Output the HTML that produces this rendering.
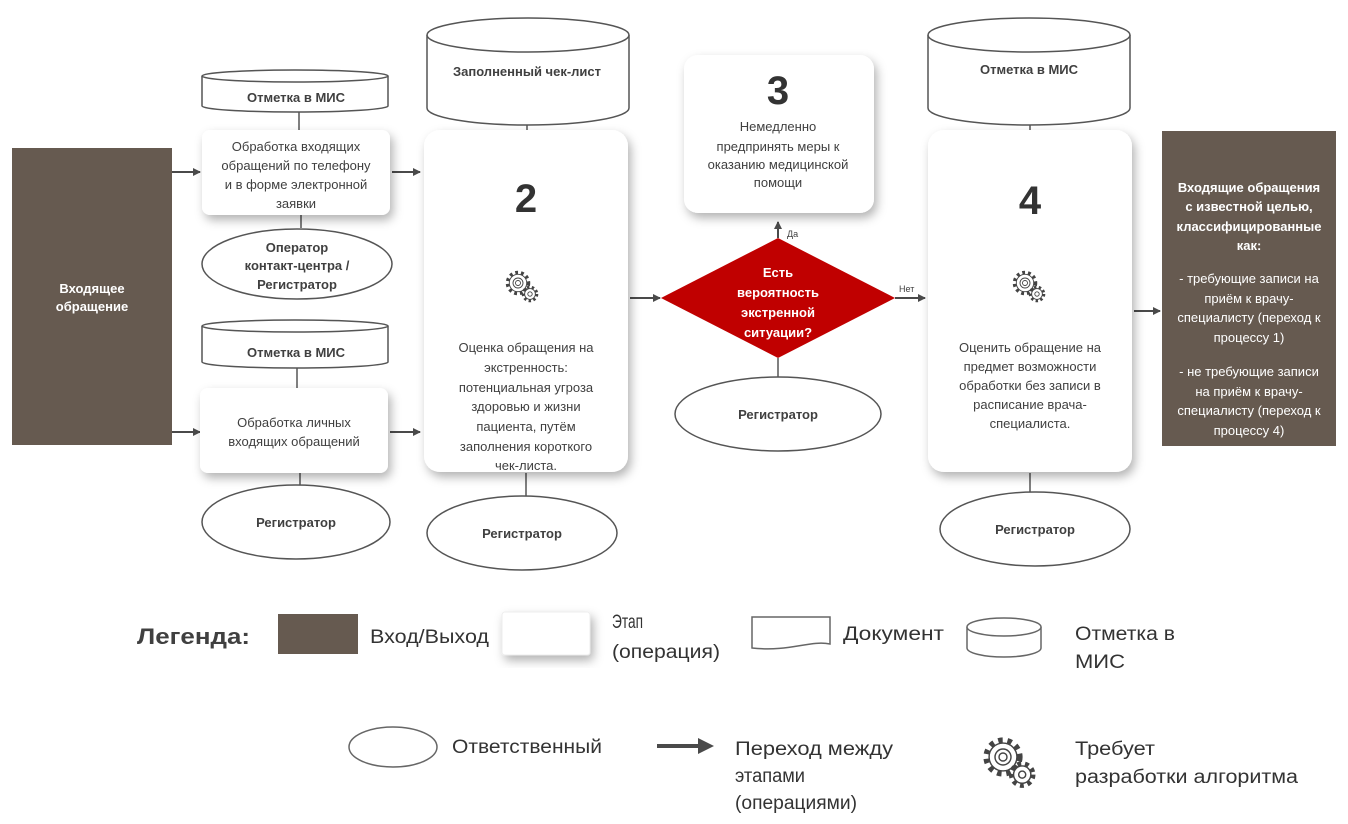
<!DOCTYPE html>
<html><head><meta charset="utf-8"><style>
html,body{margin:0;padding:0;background:#fff;}
svg{display:block;}
text{font-family:"Liberation Sans",sans-serif;fill:#404040;}
.t{font-size:13px;text-anchor:middle;}
.b{font-weight:bold;}
.w{fill:#fff;}
.n{font-family:"Liberation Sans",sans-serif;font-weight:bold;font-size:40px;text-anchor:middle;fill:#333;}
.lg{font-size:19px;fill:#333;}
</style></head><body>
<svg width="1348" height="824" viewBox="0 0 1348 824">
<defs>
<filter id="sh" x="-20%" y="-20%" width="150%" height="150%"><feDropShadow dx="3" dy="5" stdDeviation="5" flood-color="#000" flood-opacity="0.3"/></filter>
<marker id="ar" markerWidth="8" markerHeight="8" refX="7" refY="4" orient="auto" markerUnits="userSpaceOnUse"><path d="M0,0 L8,4 L0,8 z" fill="#4a4a4a"/></marker>
<g id="gear">
 <circle r="10.5" fill="none" stroke="#444" stroke-width="3.5" stroke-dasharray="2.8 3"/>
 <circle r="8.7" fill="#fff" stroke="#444" stroke-width="0.9"/>
 <circle r="5" fill="none" stroke="#444" stroke-width="0.9"/>
 <circle r="2.5" fill="none" stroke="#444" stroke-width="0.9"/>
 <g transform="translate(12,11)">
 <circle r="6.8" fill="none" stroke="#444" stroke-width="3" stroke-dasharray="2.4 2.4"/>
 <circle r="5.4" fill="#fff" stroke="#444" stroke-width="0.9"/>
 <circle r="2.2" fill="none" stroke="#444" stroke-width="0.9"/>
 </g>
</g>
</defs>
<g stroke="#555" stroke-width="1.5" fill="#fff">
<line x1="299" y1="112" x2="299" y2="130"/>
<line x1="301" y1="215" x2="301" y2="228"/>
<line x1="297" y1="368" x2="297" y2="388"/>
<line x1="300" y1="473" x2="300" y2="486"/>
<line x1="527" y1="125" x2="527" y2="130"/>
<line x1="526" y1="473" x2="526" y2="496"/>
<line x1="778" y1="358" x2="778" y2="378"/>
<line x1="1030" y1="125" x2="1030" y2="130"/>
<line x1="1030" y1="473" x2="1030" y2="492"/>
</g>
<g stroke="#4a4a4a" stroke-width="2" marker-end="url(#ar)">
<line x1="172" y1="172" x2="200" y2="172"/>
<line x1="172" y1="432" x2="200" y2="432"/>
<line x1="392" y1="172" x2="420" y2="172"/>
<line x1="390" y1="432" x2="420" y2="432"/>
<line x1="630" y1="298" x2="660" y2="298"/>
<line x1="778" y1="238" x2="778" y2="222"/>
<line x1="895" y1="298" x2="925" y2="298"/>
<line x1="1134" y1="311" x2="1160" y2="311"/>
</g>
<rect x="12" y="148" width="160" height="297" fill="#665a50"/>
<text class="t b w" x="92" y="293">Входящее</text>
<text class="t b w" x="92" y="311">обращение</text>
<rect x="1162" y="131" width="174" height="315" fill="#665a50"/>
<text class="t b w" x="1249" y="192">Входящие обращения</text>
<text class="t b w" x="1249" y="211">с известной целью,</text>
<text class="t b w" x="1249" y="231">классифицированные</text>
<text class="t b w" x="1249" y="250">как:</text>
<text class="t w" x="1249" y="283">- требующие записи на</text>
<text class="t w" x="1249" y="303">приём к врачу-</text>
<text class="t w" x="1249" y="322">специалисту (переход к</text>
<text class="t w" x="1249" y="342">процессу 1)</text>
<text class="t w" x="1249" y="376">- не требующие записи</text>
<text class="t w" x="1249" y="396">на приём к врачу-</text>
<text class="t w" x="1249" y="415">специалисту (переход к</text>
<text class="t w" x="1249" y="435">процессу 4)</text>
<g stroke="#555" stroke-width="1.5" fill="#fff">
<path d="M202,76 L202,106 A93,6 0 0 0 388,106 L388,76"/>
<ellipse cx="295" cy="76" rx="93" ry="6"/>
<path d="M202,326 L202,362 A93,6 0 0 0 388,362 L388,326"/>
<ellipse cx="295" cy="326" rx="93" ry="6"/>
<path d="M427,35 L427,108 A101,17 0 0 0 629,108 L629,35"/>
<ellipse cx="528" cy="35" rx="101" ry="17"/>
<path d="M928,35 L928,108 A101,17 0 0 0 1130,108 L1130,35"/>
<ellipse cx="1029" cy="35" rx="101" ry="17"/>
</g>
<text class="t b" x="296" y="102">Отметка в МИС</text>
<text class="t b" x="296" y="357">Отметка в МИС</text>
<text class="t b" x="527" y="76">Заполненный чек-лист</text>
<text class="t b" x="1029" y="74">Отметка в МИС</text>
<g fill="#fff" filter="url(#sh)">
<rect x="202" y="130" width="188" height="85" rx="8"/>
<rect x="200" y="388" width="188" height="85" rx="8"/>
<rect x="424" y="130" width="204" height="342" rx="16"/>
<rect x="684" y="55" width="190" height="158" rx="14"/>
<rect x="928" y="130" width="204" height="342" rx="16"/>
</g>
<text class="t" x="296" y="151">Обработка входящих</text>
<text class="t" x="296" y="170">обращений по телефону</text>
<text class="t" x="296" y="189">и в форме электронной</text>
<text class="t" x="296" y="208">заявки</text>
<text class="t" x="294" y="427">Обработка личных</text>
<text class="t" x="294" y="446">входящих обращений</text>
<text class="n" x="526" y="212">2</text>
<use href="#gear" x="518" y="283"/>
<text class="t" x="526" y="352">Оценка обращения на</text>
<text class="t" x="526" y="372">экстренность:</text>
<text class="t" x="526" y="392">потенциальная угроза</text>
<text class="t" x="526" y="411">здоровью и жизни</text>
<text class="t" x="526" y="431">пациента, путём</text>
<text class="t" x="526" y="451">заполнения короткого</text>
<text class="t" x="526" y="470">чек-листа.</text>
<text class="n" x="778" y="104">3</text>
<text class="t" x="778" y="131">Немедленно</text>
<text class="t" x="778" y="151">предпринять меры к</text>
<text class="t" x="778" y="169">оказанию медицинской</text>
<text class="t" x="778" y="187">помощи</text>
<text class="n" x="1030" y="214">4</text>
<use href="#gear" x="1025" y="283"/>
<text class="t" x="1030" y="352">Оценить обращение на</text>
<text class="t" x="1030" y="371">предмет возможности</text>
<text class="t" x="1030" y="390">обработки без записи в</text>
<text class="t" x="1030" y="409">расписание врача-</text>
<text class="t" x="1030" y="428">специалиста.</text>
<polygon points="778,238 895,298 778,358 661,298" fill="#c00000"/>
<text class="t b w" x="778" y="277">Есть</text>
<text class="t b w" x="778" y="297">вероятность</text>
<text class="t b w" x="778" y="317">экстренной</text>
<text class="t b w" x="778" y="337">ситуации?</text>
<text x="787" y="237" font-size="9">Да</text>
<text x="899" y="292" font-size="9">Нет</text>
<g fill="#fff" stroke="#555" stroke-width="1.5">
<ellipse cx="297" cy="264" rx="95" ry="35"/>
<ellipse cx="296" cy="522" rx="94" ry="37"/>
<ellipse cx="522" cy="533" rx="95" ry="37"/>
<ellipse cx="778" cy="414" rx="103" ry="37"/>
<ellipse cx="1035" cy="529" rx="95" ry="37"/>
</g>
<text class="t b" x="297" y="252">Оператор</text>
<text class="t b" x="297" y="270">контакт-центра /</text>
<text class="t b" x="297" y="289">Регистратор</text>
<text class="t b" x="296" y="527">Регистратор</text>
<text class="t b" x="522" y="538">Регистратор</text>
<text class="t b" x="778" y="419">Регистратор</text>
<text class="t b" x="1035" y="534">Регистратор</text>
<text x="137" y="644" font-weight="bold" font-size="22" fill="#222" textLength="113" lengthAdjust="spacingAndGlyphs">Легенда:</text>
<rect x="278" y="614" width="80" height="40" fill="#665a50"/>
<text class="lg" x="370" y="643" textLength="119" lengthAdjust="spacingAndGlyphs">Вход/Выход</text>
<rect x="502" y="612" width="88" height="43" rx="3" fill="#fff" filter="url(#sh)" stroke="#eee"/>
<text class="lg" x="612" y="628" textLength="31" lengthAdjust="spacingAndGlyphs">Этап</text>
<text class="lg" x="612" y="658" textLength="108" lengthAdjust="spacingAndGlyphs">(операция)</text>
<path d="M752,617 L830,617 L830,644 C810,640 790,652 752,648 Z" fill="#fff" stroke="#666" stroke-width="1.5"/>
<text class="lg" x="843" y="640" textLength="101" lengthAdjust="spacingAndGlyphs">Документ</text>
<path d="M967,627 L967,648 A37,9 0 0 0 1041,648 L1041,627" fill="#fff" stroke="#666" stroke-width="1.5"/>
<ellipse cx="1004" cy="627" rx="37" ry="9" fill="#fff" stroke="#666" stroke-width="1.5"/>
<text class="lg" x="1075" y="640" textLength="100" lengthAdjust="spacingAndGlyphs">Отметка в</text>
<text class="lg" x="1075" y="668" textLength="50" lengthAdjust="spacingAndGlyphs">МИС</text>
<ellipse cx="393" cy="747" rx="44" ry="20" fill="#fff" stroke="#666" stroke-width="1.5"/>
<text class="lg" x="452" y="753" textLength="150" lengthAdjust="spacingAndGlyphs">Ответственный</text>
<line x1="657" y1="746" x2="700" y2="746" stroke="#4a4a4a" stroke-width="4"/>
<path d="M698,738 L714,746 L698,754 Z" fill="#4a4a4a"/>
<text class="lg" x="735" y="755" textLength="158" lengthAdjust="spacingAndGlyphs">Переход между</text>
<text class="lg" x="735" y="782" textLength="70" lengthAdjust="spacingAndGlyphs">этапами</text>
<text class="lg" x="735" y="809" textLength="122" lengthAdjust="spacingAndGlyphs">(операциями)</text>
<use href="#gear" transform="translate(1003,757) scale(1.6)"/>
<text class="lg" x="1075" y="755" textLength="80" lengthAdjust="spacingAndGlyphs">Требует</text>
<text class="lg" x="1075" y="783" textLength="223" lengthAdjust="spacingAndGlyphs">разработки алгоритма</text>
</svg>
</body></html>
